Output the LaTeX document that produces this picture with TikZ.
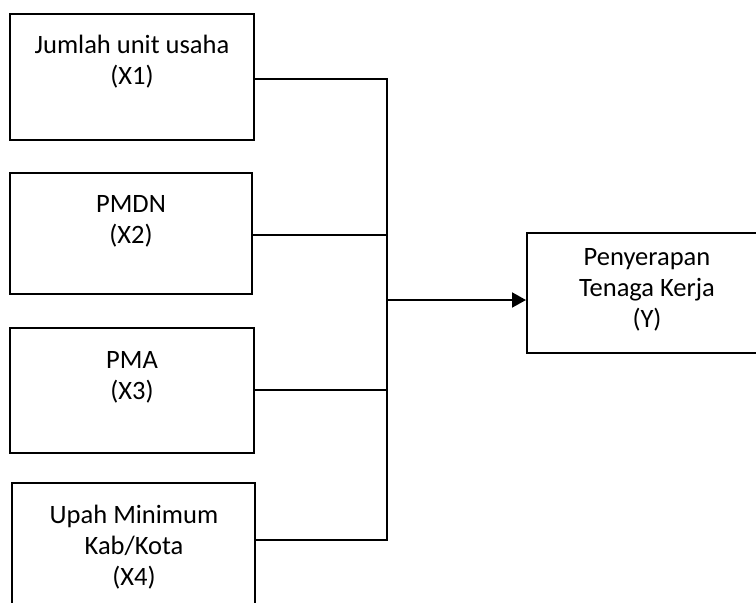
\documentclass[tikz,border=0pt]{standalone}
\usepackage{fontspec}
\setmainfont{Carlito}
\usetikzlibrary{arrows.meta}
\begin{document}
\begin{tikzpicture}[x=1pt,y=-1pt,
  boxline/.style={draw=black,line width=2pt},
  conn/.style={draw=black,line width=2pt},
  lbl/.style={align=center,inner sep=0pt,font=\fontsize{26.5}{31}\selectfont}]
\useasboundingbox (0,0) rectangle (756,603);
\clip (0,0) rectangle (756,603);
% boxes
\node[boxline,minimum width=244pt,minimum height=126pt,inner sep=0pt] (b1) at (132,77) {};
\node[boxline,minimum width=242pt,minimum height=121pt,inner sep=0pt] (b2) at (131,233.5) {};
\node[boxline,minimum width=244pt,minimum height=125pt,inner sep=0pt] (b3) at (132,390.5) {};
\node[boxline,minimum width=243pt,minimum height=140pt,inner sep=0pt] (b4) at (133.5,553) {};
\node[boxline,minimum width=250pt,minimum height=120pt,inner sep=0pt] (by) at (652,293) {};
% labels
\node[lbl] (t1) at (132,62) {Jumlah unit usaha\\(X1)};
\node[lbl] (t2) at (131,221.5) {PMDN\\(X2)};
\node[lbl] (t3) at (132,377.5) {PMA\\(X3)};
\node[lbl] (t4) at (134,547.5) {Upah Minimum\\Kab/Kota\\(X4)};
\node[lbl] (ty) at (647,290) {Penyerapan\\Tenaga Kerja\\(Y)};
% connectors
\coordinate (j1) at (387,79);
\coordinate (j2) at (387,235);
\coordinate (j3) at (387,390);
\coordinate (j4) at (387,540);
\coordinate (jm) at (387,300);
\draw[conn] (b1.east |- j1) -- (j1) -- (j4) -- (b4.east |- j4);
\draw[conn] (b2.east |- j2) -- (j2);
\draw[conn] (b3.east |- j3) -- (j3);
\draw[conn,-{Triangle[length=14pt,width=15pt]}] (jm) -- (by.west |- jm);
\end{tikzpicture}
\end{document}
